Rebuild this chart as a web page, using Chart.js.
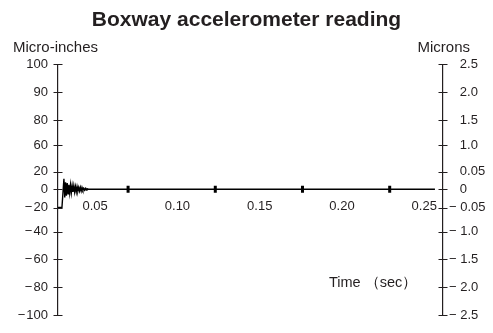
<!DOCTYPE html>
<html>
<head>
<meta charset="utf-8">
<script src="https://cdn.jsdelivr.net/npm/chart.js@4.4.0/dist/chart.umd.min.js"></script>
<style>
  body { margin: 0; background: #fff; }
</style>
</head>
<body>
<canvas id="grafica" width="493" height="333"></canvas>
<script>
// datos
const times = [0.0274, 0.0298, 0.0310, 0.0315, 0.0320, 0.0325, 0.0330, 0.0335, 0.0340, 0.0345,
  0.0350, 0.0355, 0.0360, 0.0365, 0.0370, 0.0375, 0.0380, 0.0385, 0.0390, 0.0395,
  0.0400, 0.0405, 0.0410, 0.0415, 0.0420, 0.0425, 0.0430, 0.0435, 0.0440, 0.0445,
  0.0450, 0.0460, 0.2565];
const microInches = [-20, -20, 12, -9, 8, -7, 7, -5, 5, -4,
  5, -4, 4, -3, 4, -3, 3, -3, 3, -2,
  2, -2, 2, -2, 2, -1, 1, -1, 1, -1,
  0.5, 0, 0];
const markerTimes = [0.070, 0.123, 0.176, 0.229];
const xTicks = [0.05, 0.10, 0.15, 0.20, 0.25];
const leftTicks = [-100, -80, -60, -40, -20, 0, 20, 60, 80, 90, 100];
const rightTicks = [-2.5, -2.0, -1.5, -1.0, -0.05, 0, 0.05, 1.0, 1.5, 2.0, 2.5];

// posicion de cada marca en el eje (0 = abajo, 1 = arriba)
const tickFractions = [0, 0.111, 0.222, 0.333, 0.429, 0.502, 0.571, 0.678, 0.778, 0.889, 1];
const stopsById = { y: leftTicks, y2: rightTicks };

const ink = '#231f20';
const family = "'Liberation Sans', Arial, Helvetica, sans-serif";

function interp(xs, ys, v) {
  let i = 0;
  while (i < xs.length - 2 && v > xs[i + 1]) i++;
  const t = (v - xs[i]) / (xs[i + 1] - xs[i]);
  return ys[i] + t * (ys[i + 1] - ys[i]);
}

// escala lineal por tramos: las marcas no estan espaciadas por su valor
class PiecewiseScale extends Chart.LinearScale {
  determineDataLimits() {
    const s = stopsById[this.id];
    this.min = s[0];
    this.max = s[s.length - 1];
  }
  buildTicks() {
    return stopsById[this.id].map(v => ({ value: v }));
  }
  getPixelForValue(value) {
    return this.getPixelForDecimal(interp(stopsById[this.id], tickFractions, value));
  }
  getValueForPixel(pixel) {
    return interp(tickFractions, stopsById[this.id], this.getDecimalForPixel(pixel));
  }
}
PiecewiseScale.id = 'piecewise';
PiecewiseScale.defaults = {};
Chart.register(PiecewiseScale);

function fmtLeft(v) {
  return v < 0 ? '\u2212\u200a' + Math.abs(v) : String(v);
}
function fmtRight(v) {
  const a = Math.abs(v);
  const s = a === 0 ? '0' : (a < 0.1 ? a.toFixed(2) : a.toFixed(1));
  return (v < 0 ? '\u2212 ' : '\u2007 ') + s;
}

// marcas cruzadas en los ejes y textos sueltos
const extras = {
  id: 'extras',
  afterDraw(chart) {
    const ctx = chart.ctx;
    ctx.save();
    ctx.strokeStyle = ink;
    ctx.lineWidth = 1;
    ['y', 'y2'].forEach(id => {
      const sc = chart.scales[id];
      const ax = id === 'y' ? sc.right : sc.left;
      sc.ticks.forEach((t, i) => {
        const py = Math.round(sc.getPixelForTick(i)) + 0.5;
        ctx.beginPath();
        ctx.moveTo(ax - 4.5, py);
        ctx.lineTo(ax + 4.5, py);
        ctx.stroke();
      });
    });
    ctx.fillStyle = ink;
    ctx.font = '15px ' + family;
    ctx.textBaseline = 'alphabetic';
    ctx.textAlign = 'left';
    ctx.fillText('Micro-inches', 13, 52);
    ctx.textAlign = 'right';
    ctx.fillText('Microns', 470, 52);
    ctx.textAlign = 'left';
    ctx.font = '14.5px ' + family;
    ctx.fillText('Time （sec）', 329, 287);
    ctx.restore();
  }
};

const ctx = document.getElementById('grafica').getContext('2d');
const myChart = new Chart(ctx, {
  type: 'line',
  data: {
    datasets: [
      {
        data: times.map((t, i) => ({ x: t, y: microInches[i] })),
        borderColor: '#000',
        borderWidth: 1.4,
        pointRadius: 0,
        tension: 0,
        yAxisID: 'y'
      },
      {
        data: markerTimes.map(t => ({ x: t, y: 0 })),
        showLine: false,
        pointStyle: 'line',
        rotation: 90,
        pointRadius: 3.5,
        pointBorderWidth: 3,
        borderColor: '#000',
        yAxisID: 'y'
      }
    ]
  },
  options: {
    responsive: false,
    animation: false,
    devicePixelRatio: 1,
    layout: { padding: { left: 0, right: 0, top: 0, bottom: 0 } },
    plugins: {
      legend: { display: false },
      tooltip: { enabled: false },
      title: {
        display: true,
        text: 'Boxway accelerometer reading',
        color: ink,
        font: { family: family, size: 21, weight: 'bold' },
        padding: { top: 8, bottom: 31 }
      }
    },
    scales: {
      x: {
        type: 'linear',
        position: { y: 0 },
        min: 0.0274,
        max: 0.2614,
        afterBuildTicks: s => { s.ticks = xTicks.map(v => ({ value: v })); },
        afterFit: s => { s.height = 0; },
        grid: { display: false, drawTicks: false },
        border: { display: false },
        ticks: {
          color: ink,
          font: { family: family, size: 13 },
          padding: 9,
          maxRotation: 0,
          autoSkip: false,
          callback: v => v.toFixed(2)
        }
      },
      y: {
        type: 'piecewise',
        position: 'left',
        afterFit: s => { s.width = 58; },
        grid: { drawOnChartArea: false, drawTicks: false },
        border: { display: true, color: ink, width: 1.2 },
        ticks: {
          color: ink,
          font: { family: family, size: 13 },
          padding: 10,
          autoSkip: false,
          callback: v => fmtLeft(v)
        }
      },
      y2: {
        type: 'piecewise',
        position: 'right',
        afterFit: s => { s.width = 50; },
        grid: { drawOnChartArea: false, drawTicks: false },
        border: { display: true, color: ink, width: 1.2 },
        ticks: {
          color: ink,
          font: { family: family, size: 13 },
          padding: 6,
          autoSkip: false,
          callback: v => fmtRight(v)
        }
      }
    }
  },
  plugins: [extras]
});
</script>
</body>
</html>
